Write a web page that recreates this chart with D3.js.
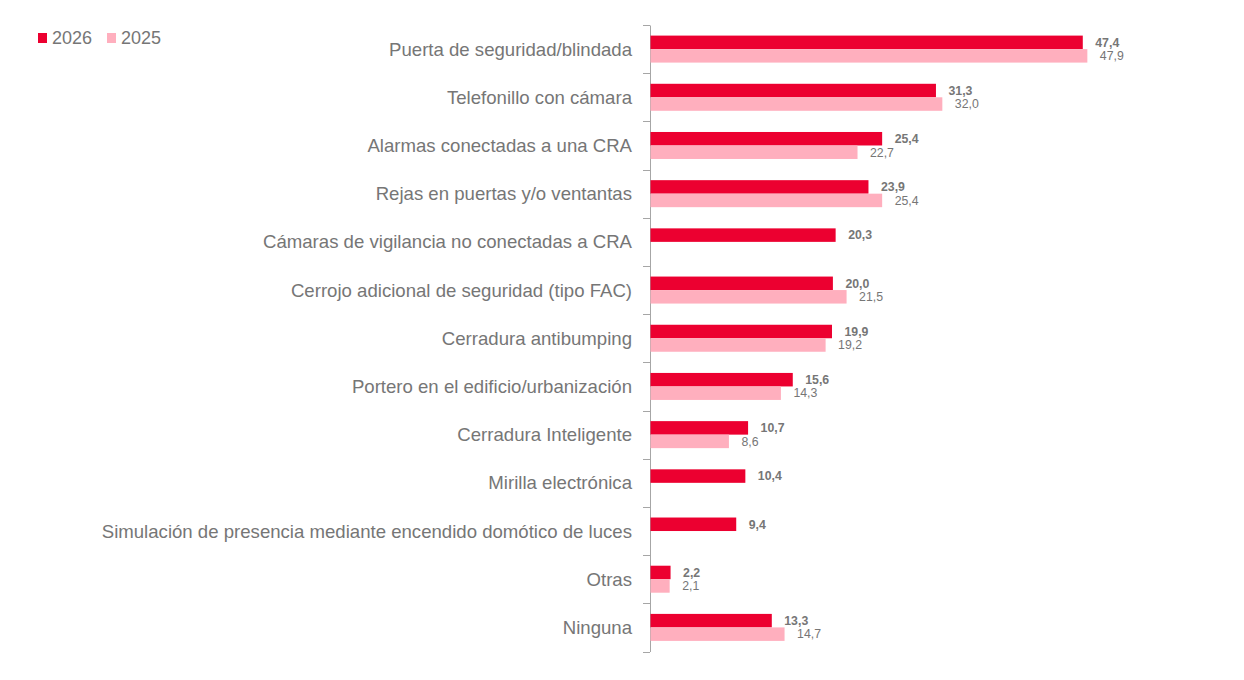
<!DOCTYPE html>
<html><head><meta charset="utf-8">
<script src="https://cdn.jsdelivr.net/npm/d3@7"></script>
<style>body{margin:0;background:#fff;} svg{display:block;font-family:"Liberation Sans",Arial,sans-serif;}</style>
</head><body>
<svg id="c" width="1244" height="680"></svg>
<script>
const categories = ["Puerta de seguridad/blindada","Telefonillo con cámara","Alarmas conectadas a una CRA","Rejas en puertas y/o ventantas","Cámaras de vigilancia no conectadas a CRA","Cerrojo adicional de seguridad (tipo FAC)","Cerradura antibumping","Portero en el edificio/urbanización","Cerradura Inteligente","Mirilla electrónica","Simulación de presencia mediante encendido domótico de luces","Otras","Ninguna"];
const values2026 = [47.4,31.3,25.4,23.9,20.3,20.0,19.9,15.6,10.7,10.4,9.4,2.2,13.3];
const values2025 = [47.9,32.0,22.7,25.4,null,21.5,19.2,14.3,8.6,null,null,2.1,14.7];
const seriesNames = ["2026","2025"];
const colors = ["#EC0030","#FFAFBE"];

const svg = d3.select("#c");
const x = d3.scaleLinear().domain([0,50]).range([650,1106]);
const y = d3.scaleBand().domain(categories).range([25,651.5]).paddingInner(0).paddingOuter(0);
const sub = d3.scaleBand().domain(seriesNames).range([0,27]);
const textCol = "#767676";

// axis
const axis = d3.axisLeft(y).tickSize(0).tickFormat("");
const g = svg.append("g").attr("transform","translate(650,0)").call(axis);
g.select(".domain").attr("stroke","#a6a6a6").attr("stroke-width",1);
// boundary ticks
const bounds = categories.map(c=>y(c)).concat([y.range()[1]]);
svg.append("g").selectAll("line").data(bounds).join("line")
  .attr("x1",643).attr("x2",650).attr("y1",d=>Math.round(d)+0.5).attr("y2",d=>Math.round(d)+0.5)
  .attr("stroke","#a6a6a6");

// category labels
svg.append("g").selectAll("text").data(categories).join("text")
  .attr("x",632).attr("y",c=>y(c)+y.bandwidth()/2).attr("dy","0.35em")
  .attr("text-anchor","end").attr("font-size",18.6).attr("fill",textCol).text(c=>c);

const off = (y.bandwidth()-27)/2;
[values2026, values2025].forEach((vals,i)=>{
  const data = categories.map((c,j)=>({c,v:vals[j]})).filter(d=>d.v!=null);
  svg.append("g").selectAll("rect").data(data).join("rect")
    .attr("x",x(0)+0.5).attr("y",d=>y(d.c)+off+sub(seriesNames[i]))
    .attr("width",d=>x(d.v)-x(0)).attr("height",sub.bandwidth())
    .attr("fill",colors[i]);
  svg.append("g").selectAll("text").data(data).join("text")
    .attr("x",d=>x(d.v)+13).attr("y",d=>y(d.c)+off+sub(seriesNames[i])+sub.bandwidth()/2)
    .attr("dy","0.35em").attr("font-size",12.3).attr("font-weight",i===0?"bold":"normal")
    .attr("fill",textCol).text(d=>d3.format(".1f")(d.v).replace(".",","));
});

// legend
const leg = svg.append("g");
seriesNames.forEach((s,i)=>{
  const lx = [38,107][i];
  leg.append("rect").attr("x",lx).attr("y",33).attr("width",9).attr("height",10).attr("fill",colors[i]);
  leg.append("text").attr("x",lx+14).attr("y",38).attr("dy","0.35em").attr("font-size",18).attr("fill",textCol).text(s);
});
</script>
</body></html>
